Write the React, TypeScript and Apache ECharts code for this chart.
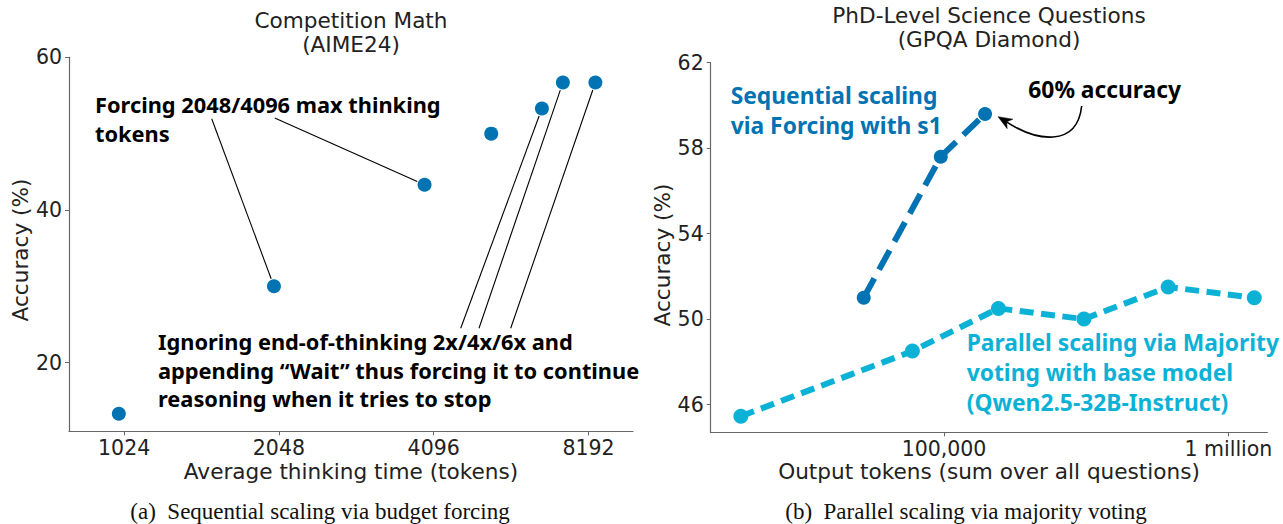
import React, { useEffect, useRef } from "react";
import * as echarts from "echarts";

// ---- Data ----
const aimeTokens = [1000, 2003, 3932, 5300, 6650, 7305, 8450];
const aimeAccuracy = [13.3, 30.0, 43.3, 50.0, 53.3, 56.7, 56.7];
const aimeXTicks = [1024, 2048, 4096, 8192];
const aimeYTicks = [20, 40, 60];

const s1Tokens = [52200, 97400, 139400];
const s1Accuracy = [51.0, 57.6, 59.6];
const majTokens = [19300, 77400, 155300, 310400, 614000, 1233000];
const majAccuracy = [45.45, 48.5, 50.5, 50.0, 51.5, 51.0];
const gpqaXTicks = [100000, 1000000];
const gpqaYTicks = [46, 50, 54, 58, 62];

const FONT = "'DejaVu Sans', sans-serif";
const BOLD = "'Noto Sans', 'Open Sans', sans-serif";
const SERIF = "'Liberation Serif', 'DejaVu Serif', serif";
const DARK = "#0173b2";
const CYAN = "#0cb2d6";
const AXIS = "#666";

function axisX(grid: number, base: number, min: number, max: number, ticks: number[], fmt: (v: number) => string) {
  return {
    gridIndex: grid,
    type: "log",
    logBase: base,
    min,
    max,
    axisLine: { show: true, lineStyle: { color: AXIS, width: 1.2 } },
    axisTick: { show: true, customValues: ticks, length: 4, lineStyle: { color: AXIS, width: 1 } },
    axisLabel: { show: true, customValues: ticks, formatter: fmt, fontSize: 20.5, lineHeight: 20, color: "#222", fontFamily: FONT, margin: 6.5 },
    splitLine: { show: false },
    minorTick: { show: false },
  };
}
function axisY(grid: number, min: number, max: number, ticks: number[]) {
  return {
    gridIndex: grid,
    type: "value",
    min,
    max,
    axisLine: { show: true, lineStyle: { color: AXIS, width: 1.2 } },
    axisTick: { show: true, customValues: ticks, length: 4, lineStyle: { color: AXIS, width: 1 } },
    axisLabel: { show: true, customValues: ticks, fontSize: 20.5, color: "#222", fontFamily: FONT, margin: 7 },
    splitLine: { show: false },
  };
}

export default function App() {
  const ref = useRef<HTMLDivElement>(null);
  useEffect(() => {
    document.body.style.margin = "0";
    if (!ref.current) return;
    const chart = echarts.init(ref.current, null, { renderer: "svg" });
    chart.setOption({
      animation: false,
      grid: [
        { left: 69, top: 57.3, width: 564, height: 374 },
        { left: 710.7, top: 62.7, width: 556.6, height: 369.6 },
      ],
      xAxis: [
        axisX(0, 2, 800, 10000, aimeXTicks, (v: number) => String(Math.round(v))),
        axisX(1, 10, 15120, 1370000, gpqaXTicks, (v: number) => (v >= 999999 ? "1 million" : "100,000")),
      ],
      yAxis: [axisY(0, 11, 60, aimeYTicks), axisY(1, 44.7, 62, gpqaYTicks)],
      series: [
        {
          type: "scatter",
          xAxisIndex: 0,
          yAxisIndex: 0,
          data: aimeTokens.map((x, i) => [x, aimeAccuracy[i]]),
          symbolSize: 14,
          itemStyle: { color: DARK, opacity: 1 },
          z: 3,
        },
        {
          type: "line",
          xAxisIndex: 1,
          yAxisIndex: 1,
          data: majTokens.map((x, i) => [x, majAccuracy[i]]),
          symbol: "circle",
          symbolSize: 15,
          lineStyle: { color: CYAN, width: 6, type: [14, 7.5] },
          itemStyle: { color: CYAN },
        },
        {
          type: "line",
          xAxisIndex: 1,
          yAxisIndex: 1,
          data: s1Tokens.map((x, i) => [x, s1Accuracy[i]]),
          symbol: "circle",
          symbolSize: 14,
          lineStyle: { color: DARK, width: 6, type: [22, 10] },
          itemStyle: { color: DARK },
        },
      ],
    });

    const px0 = (x: number, y: number) => chart.convertToPixel({ gridIndex: 0 }, [x, y]) as number[];
    const px1 = (x: number, y: number) => chart.convertToPixel({ gridIndex: 1 }, [x, y]) as number[];
    const lineTo = (sx: number, sy: number, p: number[], gap: number) => {
      const dx = p[0] - sx, dy = p[1] - sy;
      const L = Math.sqrt(dx * dx + dy * dy);
      return {
        type: "line",
        shape: { x1: sx, y1: sy, x2: p[0] - (dx / L) * gap, y2: p[1] - (dy / L) * gap },
        style: { stroke: "#000", lineWidth: 1.1 },
        z: 10,
      };
    };
    const P = (i: number) => px0(aimeTokens[i], aimeAccuracy[i]);
    const top = px1(s1Tokens[2], s1Accuracy[2]);
    const tip = [top[0] + 13, top[1] + 2.7];
    const c2 = [tip[0] + 38, tip[1] + 23];
    const dl = Math.sqrt(38 * 38 + 23 * 23);
    const ux = (tip[0] - c2[0]) / dl, uy = (tip[1] - c2[1]) / dl;
    const bx = tip[0] - ux * 14, by = tip[1] - uy * 14;
    const head = [
      tip,
      [bx - uy * 5.5, by + ux * 5.5],
      [tip[0] - ux * 10, tip[1] - uy * 10],
      [bx + uy * 5.5, by - ux * 5.5],
    ];

    const txt = (text: string, x: number, y: number, opts: any) => ({
      type: "text",
      x,
      y,
      z: 20,
      style: { text, fontFamily: FONT, fontSize: 21.6, fill: "#222", ...opts },
    });

    chart.setOption({
      graphic: [
        txt("Competition Math\n(AIME24)", 351, 8.5, { align: "center", verticalAlign: "top", lineHeight: 24 }),
        txt("PhD-Level Science Questions\n(GPQA Diamond)", 989, 3.5, { align: "center", verticalAlign: "top", lineHeight: 24 }),
        { ...txt("Accuracy (%)", 20.5, 250, { align: "center", verticalAlign: "middle" }), rotation: Math.PI / 2 },
        { ...txt("Accuracy (%)", 662, 255, { align: "center", verticalAlign: "middle" }), rotation: Math.PI / 2 },
        txt("Average thinking time (tokens)", 351, 471, { align: "center", verticalAlign: "middle", lineHeight: 20 }),
        txt("Output tokens (sum over all questions)", 989, 471.5, { align: "center", verticalAlign: "middle", lineHeight: 20 }),
        txt("(a)  Sequential scaling via budget forcing", 320, 511, { align: "center", verticalAlign: "middle", fontFamily: SERIF, fontSize: 23, fill: "#111" }),
        txt("(b)  Parallel scaling via majority voting", 966, 511, { align: "center", verticalAlign: "middle", fontFamily: SERIF, fontSize: 23, fill: "#111" }),
        txt("Forcing 2048/4096 max thinking\ntokens", 95, 89.7, { fontFamily: BOLD, fontSize: 21.8, verticalAlign: "top", lineHeight: 29, fontWeight: "bold", fill: "#000" }),
        txt("Ignoring end-of-thinking 2x/4x/6x and\nappending \u201cWait\u201d thus forcing it to continue\nreasoning when it tries to stop", 158, 327.7, { fontFamily: BOLD, fontSize: 21.8, verticalAlign: "top", lineHeight: 28.5, fontWeight: "bold", fill: "#000" }),
        txt("Sequential scaling\nvia Forcing with s1", 730.7, 80, { fontFamily: BOLD, fontSize: 22.8, verticalAlign: "top", lineHeight: 30, fontWeight: "bold", fill: DARK }),
        txt("60% accuracy", 1028.3, 74.5, { fontFamily: BOLD, fontSize: 22.8, verticalAlign: "top", lineHeight: 30, fontWeight: "bold", fill: "#000" }),
        txt("Parallel scaling via Majority\nvoting with base model\n(Qwen2.5-32B-Instruct)", 966.7, 327.5, { fontFamily: BOLD, fontSize: 22.8, verticalAlign: "top", lineHeight: 30, fontWeight: "bold", fill: CYAN }),
        lineTo(211.7, 118.7, P(1), 8),
        lineTo(274.7, 118, P(2), 8),
        lineTo(460.7, 328.3, P(4), 8),
        lineTo(479, 328.3, P(5), 8),
        lineTo(510.7, 328.3, P(6), 8),
        {
          type: "bezierCurve",
          shape: { x1: 1081.7, y1: 106, cpx1: 1077, cpy1: 148, cpx2: c2[0], cpy2: c2[1] + 2, x2: tip[0] - ux * 8, y2: tip[1] - uy * 8 },
          style: { stroke: "#000", lineWidth: 1.6, fill: null },
          z: 10,
        },
        { type: "polygon", shape: { points: head }, style: { fill: "#000", stroke: "#000", lineWidth: 0.5 }, z: 11 },
      ],
    });
    return () => chart.dispose();
  }, []);
  return <div ref={ref} style={{ width: 1283, height: 524 }} />;
}
